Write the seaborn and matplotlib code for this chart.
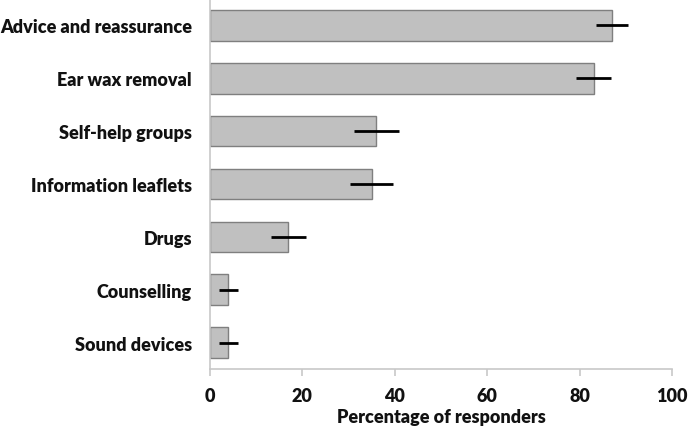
import matplotlib
matplotlib.use("Agg")
import matplotlib.pyplot as plt
import seaborn as sns
import pandas as pd

categories = ["Advice and reassurance", "Ear wax removal", "Self-help groups",
              "Information leaflets", "Drugs", "Counselling", "Sound devices"]
values = [87, 83, 36, 35, 17, 4, 4]
errors = [3.5, 3.8, 4.9, 4.7, 3.7, 2.0, 2.0]
xticks = [0, 20, 40, 60, 80, 100]
xlabel = "Percentage of responders"

sns.set_theme(style="white")
plt.rcParams['font.family'] = ['Lato', 'DejaVu Sans']

df = pd.DataFrame({"cat": categories, "val": values})

fig = plt.figure(figsize=(6.88, 4.31), dpi=100)
ax = fig.add_axes([0.305, 0.1415, 0.672, 0.8585])
sns.barplot(data=df, x="val", y="cat", orient="h", color="#c0c0c0",
            edgecolor="#7f7f7f", linewidth=1.0, width=0.58, errorbar=None,
            saturation=1, ax=ax)
ax.errorbar(x=values, y=list(range(len(categories))), xerr=errors, fmt="none",
            ecolor="black", elinewidth=2, capsize=0)

ax.set_xlim(0, 100)
ax.set_ylim(len(categories) - 0.5, -0.5)
ax.set_xticks(xticks)
ax.set_xticklabels([str(t) for t in xticks], fontsize=13, fontweight="heavy", color="#111111")
ax.set_yticks(range(len(categories)))
ax.set_yticklabels(categories, fontsize=13, fontweight="heavy", color="#111111")
ax.set_xlabel(xlabel, fontsize=13, fontweight="heavy", color="#111111", labelpad=3)
ax.set_ylabel("")
for s in ["top", "right"]:
    ax.spines[s].set_visible(False)
for s in ["left", "bottom"]:
    ax.spines[s].set_color("#c8c8c8")
    ax.spines[s].set_linewidth(1.2)
ax.tick_params(axis="x", length=5, width=1.2, color="#c8c8c8", pad=8, bottom=True)
ax.tick_params(axis="y", length=0, pad=13)

fig.savefig("out.png", dpi=100)
